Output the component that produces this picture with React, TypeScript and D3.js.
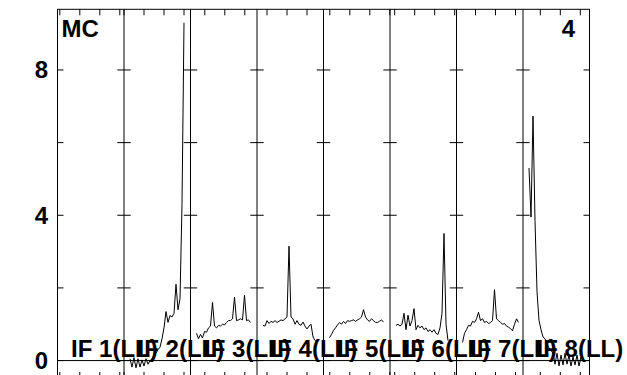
import React from "react";
import * as d3 from "d3";

const panelLabels = ["IF 1(LL)", "IF 2(LL)", "IF 3(LL)", "IF 4(LL)", "IF 5(LL)", "IF 6(LL)", "IF 7(LL)", "IF 8(LL)"];
const ifStartChannel = [8.85, 20, 32.85, 45, 56.85, 67.65, 80.5, 91.35];
const channelsPerPanel = 33.25;
const firstChannel = 3;
const yTicks = [0, 2, 4, 6, 8];
const yTickLabels = [0, 4, 8];
const sourceLabel = "MC";
const stokesLabel = "4";

const if1: number[] = [];
const if2 = [0.05, -0.18, 0.08, -0.2, 0.05, -0.18, 0.02, -0.15, 0.05, -0.1, 0.0, 0.05, 0.15, 0.2, 0.3, 0.37, 0.6, 0.9, 1.35, 1.05, 1.24, 1.2, 1.3, 2.1, 1.4, 1.7, 4.3, 9.3];
const if3 = [0.75, 0.6, 0.72, 0.62, 0.8, 0.78, 0.9, 0.95, 1.6, 0.95, 0.9, 0.97, 0.95, 1.0, 0.98, 1.05, 1.1, 1.1, 1.15, 1.75, 1.1, 1.12, 1.15, 1.12, 1.8, 1.1, 1.12, 1.05];
const if4 = [0.97, 0.95, 1.1, 1.02, 1.08, 1.05, 1.1, 1.05, 1.08, 1.12, 1.1, 1.15, 1.2, 3.15, 1.2, 1.15, 1.0, 1.1, 1.0, 0.97, 1.06, 0.95, 0.87, 0.95, 1.0, 0.65, 0.55, 0.5];
const if5 = [0.63, 0.72, 0.83, 0.9, 0.98, 1.05, 1.0, 1.08, 1.02, 1.1, 1.08, 1.1, 1.12, 1.08, 1.12, 1.15, 1.2, 1.4, 1.2, 1.12, 1.08, 1.15, 1.1, 1.05, 1.05, 1.08, 1.12, 1.06];
const if6 = [0.97, 1.0, 0.95, 1.0, 1.3, 0.85, 1.25, 0.95, 1.1, 1.43, 0.85, 0.97, 0.9, 0.95, 0.85, 0.9, 0.8, 0.85, 0.78, 0.85, 0.75, 0.72, 0.9, 1.3, 3.5, 1.0, 0.55];
const if7 = [0.5, 0.75, 0.85, 0.97, 0.95, 1.08, 1.05, 1.15, 1.33, 1.1, 1.15, 1.05, 1.08, 1.02, 1.05, 1.1, 1.95, 1.15, 1.1, 1.05, 1.0, 1.02, 0.95, 0.92, 0.88, 0.82, 1.0, 1.15, 1.05];
const if8 = [5.3, 3.95, 6.73, 3.85, 1.9, 1.1, 0.85, 0.65, 0.6, 0.45, 0.35, 0.28, 0.2, -0.1, 0.2, -0.15, 0.15, -0.12, 0.2, -0.1, 0.15, -0.15, 0.1, -0.12, 0.15, -0.15, 0.1];
const spectra = [if1, if2, if3, if4, if5, if6, if7, if8];

const W = 627;
const H = 375;
const left = 57.5;
const right = 589.5;
const top = 9.3;
const bottom = 378;
const font = "'Liberation Sans', Arial, Helvetica, sans-serif";

export default function App() {
  const band = d3.scaleBand<string>().domain(panelLabels).range([left, right]).padding(0);
  const bw = band.bandwidth();
  const y = d3.scaleLinear().domain([-0.48, 9.67]).range([bottom, top]);
  const tickLen = 6;
  const crossLen = 6.7;

  const panels = panelLabels.map((lab, i) => {
    const x0 = band(lab) as number;
    const x = d3.scaleLinear().domain([0, channelsPerPanel]).range([x0, x0 + bw]);
    const fx = d3.scaleLinear().domain([ifStartChannel[i], ifStartChannel[i] + channelsPerPanel]).range([x0, x0 + bw]);
    const xt = d3.range(Math.ceil(ifStartChannel[i] / 10) * 10, ifStartChannel[i] + channelsPerPanel, 10);
    const line = d3.line<number>().x((_, k) => x(firstChannel + k)).y((v) => y(v));
    return { lab, i, x0, fx, xt, path: spectra[i].length ? line(spectra[i]) : null };
  });

  const separators = panels.slice(1).map((p) => p.x0);

  return (
    <div style={{ position: "absolute", left: 0, top: 0 }}>
      <svg width={W} height={H} style={{ display: "block", background: "#fff" }}>
        <g stroke="#000" strokeWidth={1} fill="none">
          <rect x={left} y={top} width={right - left} height={bottom - top} />
          <line x1={left} x2={right} y1={y(0)} y2={y(0)} />
          {separators.map((sx, k) => (
            <line key={"s" + k} x1={sx} x2={sx} y1={top} y2={bottom} />
          ))}
          {yTicks.map((t) => (
            <g key={"yt" + t}>
              <line x1={left} x2={left + tickLen} y1={y(t)} y2={y(t)} />
              <line x1={right - tickLen} x2={right} y1={y(t)} y2={y(t)} />
              {separators.map((sx, k) => (
                <line key={k} x1={sx - crossLen} x2={sx + crossLen} y1={y(t)} y2={y(t)} />
              ))}
            </g>
          ))}
          {panels.map((p) =>
            p.xt.map((t) => (
              <g key={"xt" + p.i + "-" + t}>
                <line x1={p.fx(t)} x2={p.fx(t)} y1={top} y2={top + tickLen} />
                <line x1={p.fx(t)} x2={p.fx(t)} y1={bottom - tickLen} y2={bottom} />
              </g>
            ))
          )}
          {panels.map((p) => (p.path ? <path key={"p" + p.i} d={p.path} strokeWidth={1} /> : null))}
        </g>
        <g fontFamily={font} fontWeight="bold" fontSize={24} fill="#000">
          {yTickLabels.map((t) => (
            <text key={"yl" + t} x={48} y={y(t)} dy="0.35em" textAnchor="end">
              {t}
            </text>
          ))}
          <text x={61.5} y={37.3}>{sourceLabel}</text>
          <text x={575} y={37.3} textAnchor="end">{stokesLabel}</text>
          {panels.map((p) => (
            <text key={"l" + p.i} x={p.x0 + 13.6} y={357.3}>
              {p.lab}
            </text>
          ))}
        </g>
      </svg>
    </div>
  );
}
